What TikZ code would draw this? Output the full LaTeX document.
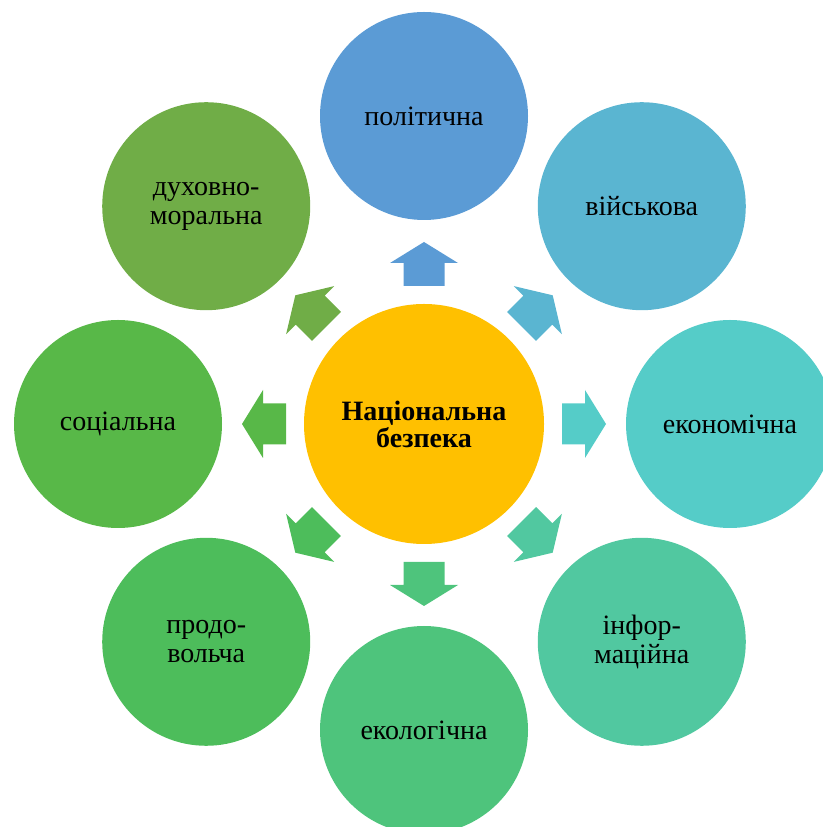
\documentclass[tikz,border=0pt]{standalone}
\usepackage{fontspec}
\setmainfont{Liberation Serif}
\definecolor{cTop}{HTML}{5B9BD5}
\definecolor{cUR}{HTML}{5AB5D1}
\definecolor{cR}{HTML}{55CCC8}
\definecolor{cLR}{HTML}{51C8A0}
\definecolor{cB}{HTML}{4EC47C}
\definecolor{cLL}{HTML}{4DBD5B}
\definecolor{cL}{HTML}{58B848}
\definecolor{cUL}{HTML}{70AD47}
\definecolor{cCenter}{HTML}{FFC000}
\tikzset{
  outer/.style={circle, minimum size=208pt, inner sep=0pt, align=center, font=\fontsize{28}{29}\selectfont},
  centre/.style={circle, fill=cCenter, minimum size=240pt, inner sep=0pt, align=center, font=\fontsize{28}{27}\selectfont\bfseries},
}
\newcommand{\blockarrow}[2]{%
  \fill[#2, rotate around={#1:(c)}] ($(c)+(138pt,-20.5pt)$) -- ($(c)+(161pt,-20.5pt)$) -- ($(c)+(161pt,-34pt)$) -- ($(c)+(182pt,0pt)$) -- ($(c)+(161pt,34pt)$) -- ($(c)+(161pt,20.5pt)$) -- ($(c)+(138pt,20.5pt)$) -- cycle;}
\usetikzlibrary{calc}
\begin{document}
\begin{tikzpicture}[x=1pt,y=1pt]
\useasboundingbox (0,0) rectangle (822,827);
\coordinate (c) at (424,403);
\node[centre] (center) at (c) {Національна\\безпека};
\node[outer, fill=cTop] (pol) at ($(c)+(90:308pt)$) {політична};
\node[outer, fill=cUR] (mil) at ($(c)+(45:308pt)$) {військова};
\node[outer, fill=cR] (eco) at ($(c)+(0:306pt)$) {економічна};
\node[outer, fill=cLR] (inf) at ($(c)+(-45:308pt)$) {інфор-\\маційна};
\node[outer, fill=cB] (ecl) at ($(c)+(-90:306pt)$) {екологічна};
\node[outer, fill=cLL] (food) at ($(c)+(-135:308pt)$) {продо-\\вольча};
\node[outer, fill=cL] (soc) at ($(c)+(180:306pt)$) {соціальна};
\node[outer, fill=cUL] (spir) at ($(c)+(135:308pt)$) {духовно-\\моральна};
\blockarrow{90}{cTop}
\blockarrow{45}{cUR}
\blockarrow{0}{cR}
\blockarrow{-45}{cLR}
\blockarrow{-90}{cB}
\blockarrow{-135}{cLL}
\blockarrow{180}{cL}
\blockarrow{135}{cUL}
\end{tikzpicture}
\end{document}
